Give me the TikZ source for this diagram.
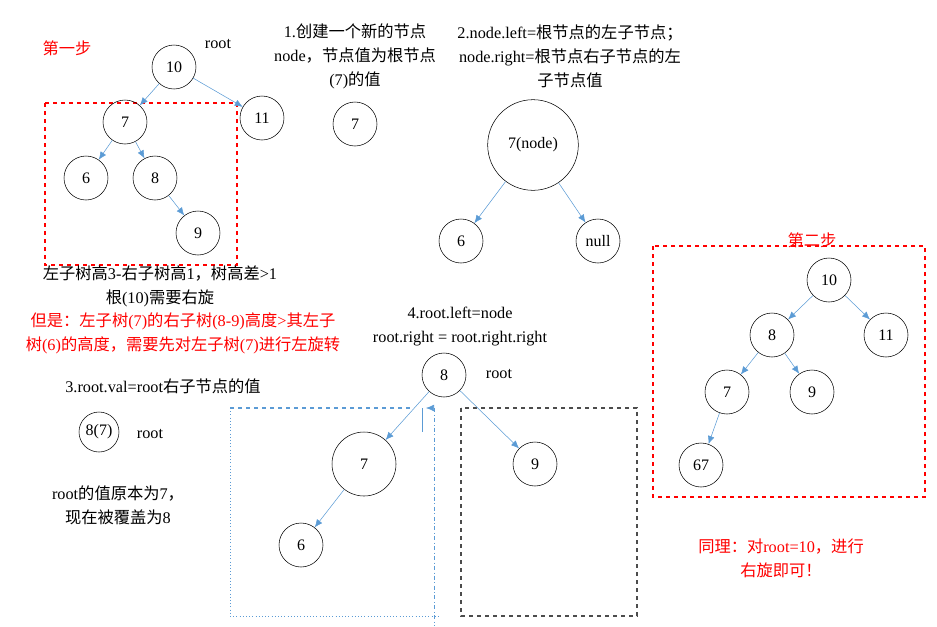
\documentclass[tikz,border=0pt]{standalone}
\usepackage{fontspec}
\setmainfont{Liberation Serif}
\newfontfamily\cjk{Noto Sans CJK SC}
\usetikzlibrary{arrows.meta}
\newcommand{\zh}[1]{{\cjk #1}}
\definecolor{lblue}{RGB}{91,155,213}
\definecolor{stepred}{RGB}{255,0,0}
\tikzset{
  nd/.style={draw,circle,minimum size=33pt,inner sep=0pt,font=\fontsize{12}{14}\selectfont},
  ar/.style={-{Latex[length=6pt,width=5pt]},lblue,thin},
  txt/.style={font=\fontsize{12.2}{18}\selectfont,align=center,inner sep=0pt},
  rtxt/.style={txt,text=stepred}
}
\begin{document}
\begin{tikzpicture}[x=0.75pt,y=-0.75pt]
\useasboundingbox (0,0) rectangle (937,626);
% step one
\node[rtxt] at (67,48) {\zh{第一步}};
\node[txt] at (218,44) {root};
\draw[stepred,dashed,thick] (45,103) rectangle (237,265);
\node[nd] (a10) at (174,67) {10};
\node[nd] (a7) at (125,122) {7};
\node[nd] (a6) at (86,178) {6};
\node[nd] (a8) at (155,178) {8};
\node[nd] (a9) at (198,233) {9};
\node[nd] (a11) at (262,118) {11};
\draw[ar] (a10) -- (a7);
\draw[ar] (a10) -- (a11);
\draw[ar] (a7) -- (a6);
\draw[ar] (a7) -- (a8);
\draw[ar] (a8) -- (a9);
% new node
\node[txt] at (355,56) {1.\zh{创建一个新的节点}\\node\zh{，节点值为根节点}\\(7)\zh{的值}};
\node[nd] (n7) at (355,124) {7};
\node[txt] at (570,56) {2.node.left=\zh{根节点的左子节点；}\\node.right=\zh{根节点右子节点的左}\\\zh{子节点值}};
\node[nd,minimum size=68pt] (nn) at (533,145) {7(node)};
\node[nd] (n6) at (461,241) {6};
\node[nd] (nnull) at (598,241) {null};
\draw[ar] (nn) -- (n6);
\draw[ar] (nn) -- (nnull);
% notes
\node[txt] at (160,286) {\zh{左子树高}3-\zh{右子树高}1\zh{，树高差}>1\\\zh{根}(10)\zh{需要右旋}};
\node[rtxt] at (183,333) {\zh{但是：左子树}(7)\zh{的右子树}(8-9)\zh{高度}>\zh{其左子}\\\zh{树}(6)\zh{的高度，需要先对左子树}(7)\zh{进行左旋转}};
\node[txt] at (163,386) {3.root.val=root\zh{右子节点的值}};
\node[nd,minimum size=30pt] (r8) at (99,432) {8(7)};
\node[txt] at (150,434) {root};
\node[txt] at (118,505) {root\zh{的值原本为}7\zh{，}\\\zh{现在被覆盖为}8};
% step four
\node[txt] at (460,327) {4.root.left=node\\root.right = root.right.right};
\draw[lblue,dotted] (230,408) -- (230,616) -- (440,616);
\draw[lblue,dashed,thick] (230,408) -- (410,408);
\coordinate (aimL) at (426,408);
\draw[-{Latex[length=6pt,width=5pt]},lblue] (434,408) -- (aimL);
\draw[lblue,dash dot] (434,408) -- (434,626);
\draw[lblue] (422,408) -- (422,432);
\draw[black!70,dashed,thick] (461,408) rectangle (637,616);
\node[nd] (b8) at (444,375) {8};
\node[txt] at (499,374) {root};
\node[nd,minimum size=48pt] (b7) at (364,464) {7};
\node[nd] (b6) at (301,545) {6};
\node[nd] (b9) at (535,464) {9};
\draw[ar] (b8) -- (b7);
\draw[ar] (b8) -- (b9);
\draw[ar] (b7) -- (b6);
% step two
\node[rtxt] at (812,240) {\zh{第二步}};
\draw[stepred,dashed,thick] (653,246) rectangle (925,497);
\node[nd] (c10) at (829,280) {10};
\node[nd] (c8) at (772,335) {8};
\node[nd] (c11) at (886,335) {11};
\node[nd] (c7) at (727,392) {7};
\node[nd] (c9) at (812,392) {9};
\node[nd] (c67) at (701,465) {67};
\draw[ar] (c10) -- (c8);
\draw[ar] (c10) -- (c11);
\draw[ar] (c8) -- (c7);
\draw[ar] (c8) -- (c9);
\draw[ar] (c7) -- (c67);
\node[rtxt] at (781,558) {\zh{同理：对}root=10\zh{，进行}\\\zh{右旋即可！}};
\end{tikzpicture}
\end{document}
